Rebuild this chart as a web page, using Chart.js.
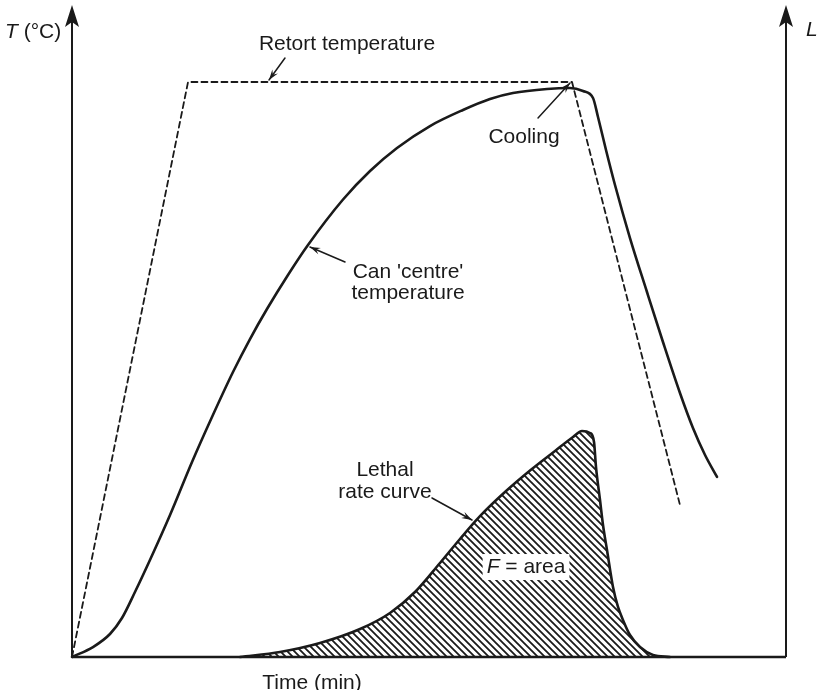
<!DOCTYPE html>
<html lang="en">
<head>
  <meta charset="UTF-8" />
  <title>Retort heat process</title>
  <script src="https://cdn.jsdelivr.net/npm/chart.js"></script>
  <style>
    body { margin: 0; background: #fff; }
    #wrap { width: 818px; height: 690px; position: relative; }
  </style>
</head>
<body>
  <div id="wrap"><canvas id="proc"></canvas></div>

  <script>
    // time (arbitrary 0-100) and temperature / lethal rate (arbitrary 0-100)
    const retortTime = [0, 16.25, 70.03, 85.15];
    const retortTemp = [0, 88.19, 88.19, 23.31];

    const canTime = [0, 2.94, 5.32, 7.00, 8.82, 10.92, 13.73, 16.81, 19.61, 22.55, 24.93, 27.31,
      30.25, 33.05, 37.96, 41.74, 45.52, 50.14, 54.76, 58.54, 61.76, 66.53, 69.75, 71.57, 72.97,
      73.67, 74.79, 76.05, 78.15, 80.53, 82.77, 85.15, 86.97, 88.66, 90.34];
    const canTemp = [0, 1.53, 3.53, 5.98, 9.97, 14.88, 21.78, 29.91, 36.81, 43.71, 48.77, 53.37,
      58.59, 63.19, 70.17, 74.54, 78.07, 81.44, 83.90, 85.58, 86.50, 87.12, 87.27, 86.81, 85.74,
      82.82, 77.76, 72.39, 64.26, 55.98, 48.31, 40.49, 35.12, 30.98, 27.61];

    const lethalTime = [23.53, 29.13, 34.73, 40.34, 44.54, 48.04, 51.54, 54.34, 57.14, 60.64, 64.15,
      67.65, 70.17, 71.43, 72.55, 73.11, 73.39, 73.95, 74.37, 74.93, 75.77, 76.47, 77.17, 78.15,
      79.55, 81.37, 83.75];
    const lethalRate = [0, 0.77, 2.15, 4.29, 6.75, 9.97, 14.42, 18.10, 21.60, 25.30, 28.60,
      31.60, 33.74, 34.66, 34.36, 32.98, 29.14, 24.08, 20.25, 16.41, 10.74, 7.67, 5.67, 3.37,
      1.53, 0.31, 0];

    // labels and pointer arrows, placed in data units
    const labels = [
      { text: 'Retort temperature', x: 38.52, y: 94.02 },
      { text: 'Cooling', x: 63.31, y: 79.75 },
      { text: "Can 'centre'", x: 47.06, y: 59.05 },
      { text: 'temperature', x: 47.06, y: 55.83 },
      { text: 'Lethal', x: 43.84, y: 28.68 },
      { text: 'rate curve', x: 43.84, y: 25.31 },
      { text: 'Time (min)', x: 33.61, y: -3.99 }
    ];
    const pointers = [
      { from: [29.83, 91.87], to: [27.59, 88.50] },
      { from: [65.27, 82.67], to: [69.75, 88.04] },
      { from: [38.24, 60.58], to: [33.33, 62.88] },
      { from: [50.42, 24.39], to: [56.02, 21.01] }
    ];

    const pts = (xs, ys) => xs.map((x, i) => ({ x: x, y: ys[i] }));
    const ink = '#1a1a1a';
    const font = '"Liberation Sans", Arial, sans-serif';
    const size = 21;

    function hatch() {
      const s = 7;
      const c = document.createElement('canvas');
      c.width = s; c.height = s;
      const g = c.getContext('2d');
      g.strokeStyle = ink;
      g.lineWidth = 1.8;
      g.beginPath();
      g.moveTo(-1, -1); g.lineTo(s + 1, s + 1);
      g.moveTo(-1, s - 1); g.lineTo(1, s + 1);
      g.moveTo(s - 1, -1); g.lineTo(s + 1, 1);
      g.stroke();
      return g.createPattern(c, 'repeat');
    }

    function arrowHead(ctx, x1, y1, x2, y2, len, half) {
      const a = Math.atan2(y2 - y1, x2 - x1);
      ctx.beginPath();
      ctx.moveTo(x2 - len * Math.cos(a - half), y2 - len * Math.sin(a - half));
      ctx.lineTo(x2, y2);
      ctx.lineTo(x2 - len * Math.cos(a + half), y2 - len * Math.sin(a + half));
      ctx.lineTo(x2 - 0.6 * len * Math.cos(a), y2 - 0.6 * len * Math.sin(a));
      ctx.closePath();
      ctx.fill();
    }

    const drawExtras = {
      id: 'extras',
      afterDraw(chart) {
        const ctx = chart.ctx;
        const xs = chart.scales.x, ys = chart.scales.y;
        const a = chart.chartArea;
        const px = v => xs.getPixelForValue(v), py = v => ys.getPixelForValue(v);
        ctx.save();
        ctx.strokeStyle = ink;
        ctx.fillStyle = ink;

        // axes with arrow tips
        ctx.lineWidth = 2;
        [a.left, a.right].forEach(x => {
          ctx.beginPath(); ctx.moveTo(x, a.bottom); ctx.lineTo(x, a.top + 12); ctx.stroke();
          ctx.beginPath();
          ctx.moveTo(x, a.top); ctx.lineTo(x - 7, a.top + 22); ctx.lineTo(x, a.top + 17);
          ctx.lineTo(x + 7, a.top + 22); ctx.closePath(); ctx.fill();
        });
        ctx.lineWidth = 2.5;
        ctx.beginPath(); ctx.moveTo(a.left, a.bottom); ctx.lineTo(a.right, a.bottom); ctx.stroke();

        // pointer arrows
        ctx.lineWidth = 1.5;
        ctx.lineCap = 'round';
        pointers.forEach(p => {
          const x1 = px(p.from[0]), y1 = py(p.from[1]), x2 = px(p.to[0]), y2 = py(p.to[1]);
          ctx.beginPath(); ctx.moveTo(x1, y1); ctx.lineTo(x2, y2); ctx.stroke();
          arrowHead(ctx, x1, y1, x2, y2, 11, 0.32);
        });

        // text
        const reg = size + 'px ' + font, ital = 'italic ' + size + 'px ' + font;
        ctx.font = reg;
        ctx.textAlign = 'center';
        ctx.textBaseline = 'middle';
        labels.forEach(l => ctx.fillText(l.text, px(l.x), py(l.y)));

        // F = area with white box
        const fx = px(63.59), fy = py(13.80);
        ctx.font = reg;
        const restW = ctx.measureText(' = area').width;
        ctx.font = ital;
        const fW = ctx.measureText('F').width;
        const total = fW + restW;
        ctx.fillStyle = '#fff';
        ctx.fillRect(fx - total / 2 - 4, fy - 13, total + 8, 26);
        ctx.fillStyle = ink;
        ctx.textAlign = 'left';
        ctx.fillText('F', fx - total / 2, fy);
        ctx.font = reg;
        ctx.fillText(' = area', fx - total / 2 + fW, fy);

        // axis titles
        ctx.font = ital;
        ctx.fillText('T', 5, a.top + 27);
        const tW = ctx.measureText('T').width;
        ctx.font = reg;
        ctx.fillText(' (°C)', 5 + tW, a.top + 27);
        ctx.font = ital;
        ctx.fillText('L', a.right + 20, a.top + 25);
        ctx.restore();
      }
    };

    new Chart(document.getElementById('proc'), {
      type: 'line',
      data: {
        datasets: [
          {
            label: 'Retort temperature',
            data: pts(retortTime, retortTemp),
            borderColor: ink,
            borderWidth: 1.8,
            borderDash: [6, 4],
            tension: 0,
            fill: false,
            clip: false
          },
          {
            label: "Can 'centre' temperature",
            data: pts(canTime, canTemp),
            borderColor: ink,
            borderWidth: 2.6,
            cubicInterpolationMode: 'monotone',
            fill: false,
            clip: false
          },
          {
            label: 'Lethal rate curve',
            data: pts(lethalTime, lethalRate),
            yAxisID: 'yL',
            borderColor: ink,
            borderWidth: 2.6,
            backgroundColor: hatch(),
            cubicInterpolationMode: 'monotone',
            fill: 'origin',
            clip: false
          }
        ]
      },
      options: {
        responsive: true,
        maintainAspectRatio: false,
        animation: false,
        layout: { padding: { left: 72, right: 32, top: 5, bottom: 33 } },
        elements: { point: { radius: 0 }, line: { borderCapStyle: 'round', borderJoinStyle: 'round' } },
        plugins: { legend: { display: false }, tooltip: { enabled: false } },
        scales: {
          x: { type: 'linear', min: 0, max: 100, display: false },
          y: { min: 0, max: 100, display: false },
          yL: { min: 0, max: 100, display: false, position: 'right' }
        }
      },
      plugins: [drawExtras]
    });
  </script>
</body>
</html>
